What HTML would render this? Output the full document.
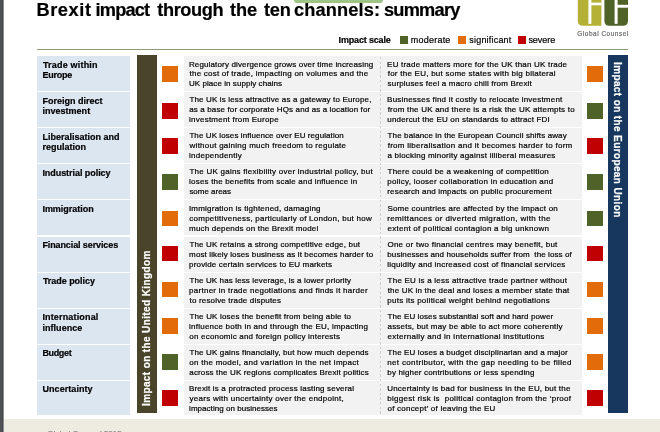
<!DOCTYPE html>
<html lang="en"><head><meta charset="utf-8"><title>Brexit impact through the ten channels: summary</title>
<style>
html,body{margin:0;padding:0}
body{width:660px;height:432px;overflow:hidden;background:#fff;position:relative;font-family:"Liberation Sans", sans-serif;}
.a{position:absolute}
.t{position:absolute;white-space:pre;line-height:1;margin:0;padding:0;-webkit-text-stroke:0.2px currentColor}
.b{font-weight:bold}
</style></head><body>

<div class="a" style="left:0;top:0;width:4.4px;height:432px;background:linear-gradient(90deg,#4e5256 0,#4e5256 2px,#3c3e41 2.9px,#ffffff 4.3px)"></div>
<div class="a" style="left:4px;top:418.9px;width:656px;height:14px;background:#eeece1"></div>
<div class="a" style="left:294.2px;top:-3px;width:88.5px;height:5.6px;background:#9dc385;border-radius:0 0 3px 3px"></div>
<div class="a" style="left:37px;top:49.1px;width:591px;height:1.25px;background:#8e9a76"></div>
<svg class="a" style="left:577px;top:0" width="52" height="27" viewBox="577 0 52 27">
<path d="M577.8 0H601.4V25.7H582.8Q577.8 25.7 577.8 20.7Z" fill="#b4b136"/>
<rect x="588.4" y="0" width="3" height="23.9" fill="#fff"/>
<rect x="590" y="2.6" width="11.6" height="2.7" fill="#fff"/>
<path d="M604.4 0H628V20.7Q628 25.7 623 25.7H609.4Q604.4 25.7 604.4 20.7Z" fill="#4f6228"/>
<rect x="614.6" y="0" width="3" height="23.9" fill="#fff"/>
<rect x="616" y="4.8" width="12.2" height="2.9" fill="#fff"/>
</svg>
<div class="a" style="left:400px;top:36px;width:8px;height:8px;background:#4f6228"></div>
<div class="a" style="left:458.2px;top:36px;width:8px;height:8px;background:#e36c0a"></div>
<div class="a" style="left:517.7px;top:36px;width:8px;height:8px;background:#c00000"></div>
<div class="a" style="left:37px;top:55.6px;width:93.3px;height:35.1px;background:#dce6f1"></div>
<div class="a" style="left:183.5px;top:55.6px;width:398px;height:35.1px;background:#f2f2f2"></div>
<div class="a" style="left:162px;top:66px;width:15.9px;height:15.6px;background:#e36c0a"></div>
<div class="a" style="left:587.2px;top:66px;width:15.9px;height:15.6px;background:#e36c0a"></div>
<div class="a" style="left:37px;top:91.8px;width:93.3px;height:35.1px;background:#dce6f1"></div>
<div class="a" style="left:183.5px;top:91.8px;width:398px;height:35.1px;background:#f2f2f2"></div>
<div class="a" style="left:162px;top:103.1px;width:15.9px;height:15.6px;background:#c00000"></div>
<div class="a" style="left:587.2px;top:103.1px;width:15.9px;height:15.6px;background:#4f6228"></div>
<div class="a" style="left:37px;top:127.9px;width:93.3px;height:35.1px;background:#dce6f1"></div>
<div class="a" style="left:183.5px;top:127.9px;width:398px;height:35.1px;background:#f2f2f2"></div>
<div class="a" style="left:162px;top:138.1px;width:15.9px;height:15.6px;background:#c00000"></div>
<div class="a" style="left:587.2px;top:138.1px;width:15.9px;height:15.6px;background:#c00000"></div>
<div class="a" style="left:37px;top:164.1px;width:93.3px;height:35.1px;background:#dce6f1"></div>
<div class="a" style="left:183.5px;top:164.1px;width:398px;height:35.1px;background:#f2f2f2"></div>
<div class="a" style="left:162px;top:174.4px;width:15.9px;height:15.6px;background:#4f6228"></div>
<div class="a" style="left:587.2px;top:174.4px;width:15.9px;height:15.6px;background:#4f6228"></div>
<div class="a" style="left:37px;top:200.3px;width:93.3px;height:35.1px;background:#dce6f1"></div>
<div class="a" style="left:183.5px;top:200.3px;width:398px;height:35.1px;background:#f2f2f2"></div>
<div class="a" style="left:162px;top:210.6px;width:15.9px;height:15.6px;background:#e36c0a"></div>
<div class="a" style="left:587.2px;top:210.6px;width:15.9px;height:15.6px;background:#4f6228"></div>
<div class="a" style="left:37px;top:236.5px;width:93.3px;height:35.1px;background:#dce6f1"></div>
<div class="a" style="left:183.5px;top:236.5px;width:398px;height:35.1px;background:#f2f2f2"></div>
<div class="a" style="left:162px;top:245.6px;width:15.9px;height:15.6px;background:#c00000"></div>
<div class="a" style="left:587.2px;top:245.6px;width:15.9px;height:15.6px;background:#c00000"></div>
<div class="a" style="left:37px;top:272.6px;width:93.3px;height:35.1px;background:#dce6f1"></div>
<div class="a" style="left:183.5px;top:272.6px;width:398px;height:35.1px;background:#f2f2f2"></div>
<div class="a" style="left:162px;top:281.9px;width:15.9px;height:15.6px;background:#e36c0a"></div>
<div class="a" style="left:587.2px;top:281.9px;width:15.9px;height:15.6px;background:#e36c0a"></div>
<div class="a" style="left:37px;top:308.8px;width:93.3px;height:35.1px;background:#dce6f1"></div>
<div class="a" style="left:183.5px;top:308.8px;width:398px;height:35.1px;background:#f2f2f2"></div>
<div class="a" style="left:162px;top:318.1px;width:15.9px;height:15.6px;background:#e36c0a"></div>
<div class="a" style="left:587.2px;top:318.1px;width:15.9px;height:15.6px;background:#e36c0a"></div>
<div class="a" style="left:37px;top:345.0px;width:93.3px;height:35.1px;background:#dce6f1"></div>
<div class="a" style="left:183.5px;top:345.0px;width:398px;height:35.1px;background:#f2f2f2"></div>
<div class="a" style="left:162px;top:354.4px;width:15.9px;height:15.6px;background:#4f6228"></div>
<div class="a" style="left:587.2px;top:354.4px;width:15.9px;height:15.6px;background:#e36c0a"></div>
<div class="a" style="left:37px;top:381.1px;width:93.3px;height:34.4px;background:#dce6f1"></div>
<div class="a" style="left:183.5px;top:381.1px;width:398px;height:34.4px;background:#f2f2f2"></div>
<div class="a" style="left:162px;top:390.2px;width:15.9px;height:15.6px;background:#c00000"></div>
<div class="a" style="left:587.2px;top:390.2px;width:15.9px;height:15.6px;background:#c00000"></div>
<div class="a" style="left:379.9px;top:56.6px;width:1.5px;height:358.6px;background:repeating-linear-gradient(180deg,#cdcdcd 0,#cdcdcd 2.4px,transparent 2.4px,transparent 4.6px)"></div>
<div class="a" style="left:137.2px;top:55.2px;width:19.7px;height:357.5px;background:#4a452a"></div>
<div class="a" style="left:608.1px;top:55.2px;width:20.3px;height:357.5px;background:#17375e"></div>
<h1 style="margin:0;padding:0;font-size:18.2px;font-weight:bold"><span class="t b" style="left:36.4px;top:1px;font-size:18.2px;letter-spacing:0.635px;color:#000">Brexit</span> <span class="t b" style="left:95.6px;top:1px;font-size:18.2px;letter-spacing:-0.846px;color:#000">impact</span> <span class="t b" style="left:157.3px;top:1px;font-size:18.2px;letter-spacing:-0.406px;color:#000">through</span> <span class="t b" style="left:230.0px;top:1px;font-size:18.2px;letter-spacing:-0.119px;color:#000">the</span> <span class="t b" style="left:263.9px;top:1px;font-size:18.2px;letter-spacing:-0.115px;color:#000">ten</span> <span class="t b" style="left:294.1px;top:1px;font-size:18.2px;letter-spacing:0.119px;color:#000">channels:</span> <span class="t b" style="left:383.9px;top:1px;font-size:18.2px;letter-spacing:-0.726px;color:#000">summary</span></h1>
<div class="t b" style="left:42.9px;top:61px;font-size:9.0px;letter-spacing:0.195px;color:#000">Trade within</div>
<div class="t b" style="left:42.4px;top:71px;font-size:9.0px;letter-spacing:-0.221px;color:#000">Europe</div>
<div class="t" style="left:188.9px;top:61px;font-size:8.0px;letter-spacing:0.146px;color:#000">Regulatory divergence grows over time increasing</div>
<div class="t" style="left:189.5px;top:70px;font-size:8.0px;letter-spacing:0.228px;color:#000">the cost of trade, impacting on volumes and the</div>
<div class="t" style="left:189.0px;top:80px;font-size:8.0px;letter-spacing:0.058px;color:#000">UK place in supply chains</div>
<div class="t" style="left:387.1px;top:61px;font-size:8.0px;letter-spacing:0.204px;color:#000">EU trade matters more for the UK than UK trade</div>
<div class="t" style="left:387.7px;top:70px;font-size:8.0px;letter-spacing:0.251px;color:#000">for the EU, but some states with big bilateral</div>
<div class="t" style="left:387.6px;top:80px;font-size:8.0px;letter-spacing:0.174px;color:#000">surpluses feel a macro chill from Brexit</div>
<div class="t b" style="left:42.4px;top:97px;font-size:9.0px;letter-spacing:0.015px;color:#000">Foreign direct</div>
<div class="t b" style="left:42.4px;top:107px;font-size:9.0px;letter-spacing:0.025px;color:#000">investment</div>
<div class="t" style="left:189.4px;top:96px;font-size:8.0px;letter-spacing:0.151px;color:#000">The UK is less attractive as a gateway to Europe,</div>
<div class="t" style="left:189.3px;top:106px;font-size:8.0px;letter-spacing:0.127px;color:#000">as a base for corporate HQs and as a location for</div>
<div class="t" style="left:189.1px;top:116px;font-size:8.0px;letter-spacing:0.222px;color:#000">investment from Europe</div>
<div class="t" style="left:387.1px;top:96px;font-size:8.0px;letter-spacing:0.208px;color:#000">Businesses find it costly to relocate investment</div>
<div class="t" style="left:387.7px;top:106px;font-size:8.0px;letter-spacing:0.213px;color:#000">from the UK and there is a risk the UK attempts to</div>
<div class="t" style="left:387.3px;top:116px;font-size:8.0px;letter-spacing:0.184px;color:#000">undercut the EU on standards to attract FDI</div>
<div class="t b" style="left:42.4px;top:133px;font-size:9.0px;letter-spacing:0.011px;color:#000">Liberalisation and</div>
<div class="t b" style="left:42.4px;top:143px;font-size:9.0px;letter-spacing:0.015px;color:#000">regulation</div>
<div class="t" style="left:189.4px;top:132px;font-size:8.0px;letter-spacing:0.091px;color:#000">The UK loses influence over EU regulation</div>
<div class="t" style="left:189.6px;top:142px;font-size:8.0px;letter-spacing:0.248px;color:#000">without gaining much freedom to regulate</div>
<div class="t" style="left:189.1px;top:152px;font-size:8.0px;letter-spacing:0.235px;color:#000">independently</div>
<div class="t" style="left:387.6px;top:132px;font-size:8.0px;letter-spacing:0.123px;color:#000">The balance in the European Council shifts away</div>
<div class="t" style="left:387.7px;top:142px;font-size:8.0px;letter-spacing:0.269px;color:#000">from liberalisation and it becomes harder to form</div>
<div class="t" style="left:387.5px;top:152px;font-size:8.0px;letter-spacing:0.202px;color:#000">a blocking minority against illiberal measures</div>
<div class="t b" style="left:42.4px;top:169px;font-size:9.0px;letter-spacing:-0.054px;color:#000">Industrial policy</div>
<div class="t" style="left:189.4px;top:168px;font-size:8.0px;letter-spacing:0.250px;color:#000">The UK gains flexibility over industrial policy, but</div>
<div class="t" style="left:189.1px;top:178px;font-size:8.0px;letter-spacing:0.189px;color:#000">loses the benefits from scale and influence in</div>
<div class="t" style="left:189.4px;top:188px;font-size:8.0px;letter-spacing:-0.021px;color:#000">some areas</div>
<div class="t" style="left:387.6px;top:168px;font-size:8.0px;letter-spacing:0.216px;color:#000">There could be a weakening of competition</div>
<div class="t" style="left:387.3px;top:178px;font-size:8.0px;letter-spacing:0.257px;color:#000">policy, looser collaboration in education and</div>
<div class="t" style="left:387.3px;top:188px;font-size:8.0px;letter-spacing:0.162px;color:#000">research and impacts on public procurement</div>
<div class="t b" style="left:42.4px;top:205px;font-size:9.0px;letter-spacing:-0.016px;color:#000">Immigration</div>
<div class="t" style="left:188.9px;top:205px;font-size:8.0px;letter-spacing:0.216px;color:#000">Immigration is tightened, damaging</div>
<div class="t" style="left:189.3px;top:215px;font-size:8.0px;letter-spacing:0.248px;color:#000">competitiveness, particularly of London, but how</div>
<div class="t" style="left:189.1px;top:225px;font-size:8.0px;letter-spacing:0.178px;color:#000">much depends on the Brexit model</div>
<div class="t" style="left:387.4px;top:205px;font-size:8.0px;letter-spacing:0.222px;color:#000">Some countries are affected by the impact on</div>
<div class="t" style="left:387.3px;top:215px;font-size:8.0px;letter-spacing:0.347px;color:#000">remittances or diverted migration, with the</div>
<div class="t" style="left:387.5px;top:225px;font-size:8.0px;letter-spacing:0.263px;color:#000">extent of political contagion a big unknown</div>
<div class="t b" style="left:42.4px;top:241px;font-size:9.0px;letter-spacing:-0.104px;color:#000">Financial services</div>
<div class="t" style="left:189.4px;top:241px;font-size:8.0px;letter-spacing:0.179px;color:#000">The UK retains a strong competitive edge, but</div>
<div class="t" style="left:189.1px;top:251px;font-size:8.0px;letter-spacing:0.125px;color:#000">most likely loses business as it becomes harder to</div>
<div class="t" style="left:189.1px;top:261px;font-size:8.0px;letter-spacing:0.161px;color:#000">provide certain services to EU markets</div>
<div class="t" style="left:387.4px;top:241px;font-size:8.0px;letter-spacing:0.264px;color:#000">One or two financial centres may benefit, but</div>
<div class="t" style="left:387.3px;top:251px;font-size:8.0px;letter-spacing:0.091px;color:#000">businesses and households suffer from  the loss of</div>
<div class="t" style="left:387.3px;top:261px;font-size:8.0px;letter-spacing:0.203px;color:#000">liquidity and increased cost of financial services</div>
<div class="t b" style="left:42.9px;top:277px;font-size:9.0px;letter-spacing:-0.044px;color:#000">Trade policy</div>
<div class="t" style="left:189.4px;top:277px;font-size:8.0px;letter-spacing:0.126px;color:#000">The UK has less leverage, is a lower priority</div>
<div class="t" style="left:189.1px;top:287px;font-size:8.0px;letter-spacing:0.262px;color:#000">partner in trade negotiations and finds it harder</div>
<div class="t" style="left:189.5px;top:297px;font-size:8.0px;letter-spacing:0.177px;color:#000">to resolve trade disputes</div>
<div class="t" style="left:387.6px;top:277px;font-size:8.0px;letter-spacing:0.225px;color:#000">The EU is a less attractive trade partner without</div>
<div class="t" style="left:387.7px;top:287px;font-size:8.0px;letter-spacing:0.175px;color:#000">the UK in the deal and loses a member state that</div>
<div class="t" style="left:387.3px;top:297px;font-size:8.0px;letter-spacing:0.256px;color:#000">puts its political weight behind negotiations</div>
<div class="t b" style="left:42.4px;top:313px;font-size:9.0px;letter-spacing:0.160px;color:#000">International</div>
<div class="t b" style="left:42.4px;top:324px;font-size:9.0px;letter-spacing:0.053px;color:#000">influence</div>
<div class="t" style="left:189.4px;top:313px;font-size:8.0px;letter-spacing:0.184px;color:#000">The UK loses the benefit from being able to</div>
<div class="t" style="left:189.1px;top:323px;font-size:8.0px;letter-spacing:0.224px;color:#000">influence both in and through the EU, impacting</div>
<div class="t" style="left:189.3px;top:333px;font-size:8.0px;letter-spacing:0.202px;color:#000">on economic and foreign policy interests</div>
<div class="t" style="left:387.6px;top:313px;font-size:8.0px;letter-spacing:0.095px;color:#000">The EU loses substantial soft and hard power</div>
<div class="t" style="left:387.5px;top:323px;font-size:8.0px;letter-spacing:0.202px;color:#000">assets, but may be able to act more coherently</div>
<div class="t" style="left:387.5px;top:333px;font-size:8.0px;letter-spacing:0.296px;color:#000">externally and in international institutions</div>
<div class="t b" style="left:42.4px;top:349px;font-size:9.0px;letter-spacing:-0.338px;color:#000">Budget</div>
<div class="t" style="left:189.4px;top:349px;font-size:8.0px;letter-spacing:0.152px;color:#000">The UK gains financially, but how much depends</div>
<div class="t" style="left:189.3px;top:359px;font-size:8.0px;letter-spacing:0.274px;color:#000">on the model, and variation in the net impact</div>
<div class="t" style="left:189.3px;top:369px;font-size:8.0px;letter-spacing:0.144px;color:#000">across the UK regions complicates Brexit politics</div>
<div class="t" style="left:387.6px;top:349px;font-size:8.0px;letter-spacing:0.123px;color:#000">The EU loses a budget disciplinarian and a major</div>
<div class="t" style="left:387.3px;top:359px;font-size:8.0px;letter-spacing:0.338px;color:#000">net contributor, with the gap needing to be filled</div>
<div class="t" style="left:387.3px;top:369px;font-size:8.0px;letter-spacing:0.158px;color:#000">by higher contributions or less spending</div>
<div class="t b" style="left:42.5px;top:385px;font-size:9.0px;letter-spacing:0.057px;color:#000">Uncertainty</div>
<div class="t" style="left:188.9px;top:385px;font-size:8.0px;letter-spacing:0.181px;color:#000">Brexit is a protracted process lasting several</div>
<div class="t" style="left:189.6px;top:395px;font-size:8.0px;letter-spacing:0.262px;color:#000">years with uncertainty over the endpoint,</div>
<div class="t" style="left:189.1px;top:405px;font-size:8.0px;letter-spacing:0.037px;color:#000">impacting on businesses</div>
<div class="t" style="left:387.2px;top:385px;font-size:8.0px;letter-spacing:0.199px;color:#000">Uncertainty is bad for business in the EU, but the</div>
<div class="t" style="left:387.3px;top:395px;font-size:8.0px;letter-spacing:0.263px;color:#000">biggest risk is  political contagion from the ‘proof</div>
<div class="t" style="left:387.5px;top:405px;font-size:8.0px;letter-spacing:0.225px;color:#000">of concept’ of leaving the EU</div>
<div class="t b" style="left:338.6px;top:36px;font-size:9.0px;letter-spacing:-0.166px;color:#000">Impact scale</div>
<div class="t" style="left:410.7px;top:36px;font-size:9.0px;letter-spacing:0.238px;color:#000">moderate</div>
<div class="t" style="left:469.3px;top:36px;font-size:9.0px;letter-spacing:0.199px;color:#000">significant</div>
<div class="t" style="left:528.4px;top:36px;font-size:9.0px;letter-spacing:-0.033px;color:#000">severe</div>
<div class="t" style="left:577.3px;top:31px;font-size:6.4px;letter-spacing:0.557px;color:#6c6c6c">Global Counsel</div>
<div class="t" style="left:47.2px;top:430px;font-size:8.0px;letter-spacing:-0.016px;color:#7f7f7f">Global Counsel 2015</div>
<div class="t b" style="left:141.53px;top:405.97px;font-size:10.0px;letter-spacing:0.381px;color:#fff;transform-origin:0 0;transform:translate(0,0) rotate(-90deg) ;">Impact on the United Kingdom</div>
<div class="t b" style="left:622.26px;top:62.13px;font-size:10.0px;letter-spacing:0.380px;color:#fff;transform-origin:0 0;transform:rotate(90deg);">Impact on the European Union</div>
</body></html>
